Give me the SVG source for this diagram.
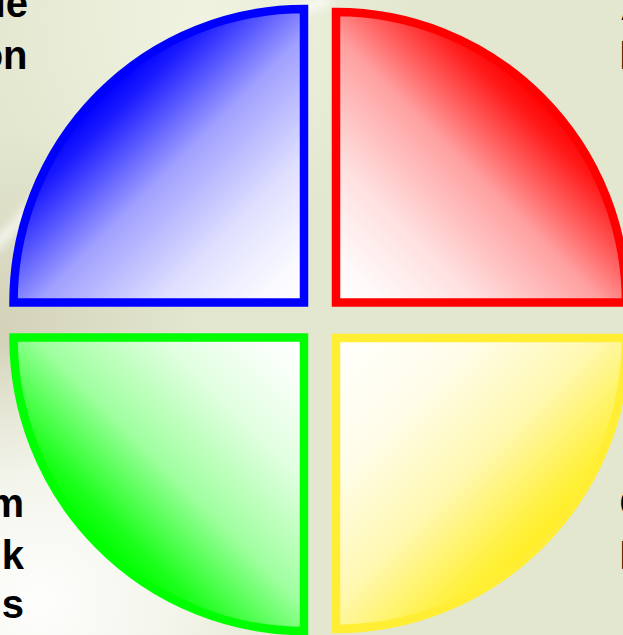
<svg xmlns="http://www.w3.org/2000/svg" width="623" height="635" viewBox="0 0 623 635">
  <defs>
    <style>
      .q { stroke-width: 8.5; stroke-linejoin: miter; }
      .lbl { font-family: "Liberation Sans", Arial, sans-serif; font-weight: bold; font-size: 40px; fill: #000000; }
      .end { text-anchor: end; }
    </style>
    <linearGradient id="gBlue" gradientUnits="userSpaceOnUse" x1="99" y1="97" x2="304" y2="302">
      <stop offset="0" stop-color="#0000ff"/>
      <stop offset="0.08" stop-color="#1a1aff"/>
      <stop offset="0.35" stop-color="#a0a0ff"/>
      <stop offset="0.65" stop-color="#e0e0ff"/>
      <stop offset="0.88" stop-color="#f9f9ff"/>
      <stop offset="1" stop-color="#ffffff"/>
    </linearGradient>
    <linearGradient id="gRed" gradientUnits="userSpaceOnUse" x1="541" y1="97" x2="336" y2="302">
      <stop offset="0" stop-color="#ff0000"/>
      <stop offset="0.08" stop-color="#ff1a1a"/>
      <stop offset="0.35" stop-color="#ffa0a0"/>
      <stop offset="0.65" stop-color="#ffe0e0"/>
      <stop offset="0.88" stop-color="#fff9f9"/>
      <stop offset="1" stop-color="#ffffff"/>
    </linearGradient>
    <linearGradient id="gGreen" gradientUnits="userSpaceOnUse" x1="99" y1="543" x2="304" y2="338">
      <stop offset="0" stop-color="#00ff00"/>
      <stop offset="0.08" stop-color="#1aff1a"/>
      <stop offset="0.35" stop-color="#a0ffa0"/>
      <stop offset="0.65" stop-color="#e0ffe0"/>
      <stop offset="0.88" stop-color="#f9fff9"/>
      <stop offset="1" stop-color="#ffffff"/>
    </linearGradient>
    <linearGradient id="gYellow" gradientUnits="userSpaceOnUse" x1="541" y1="543" x2="336" y2="338">
      <stop offset="0" stop-color="#ffee22"/>
      <stop offset="0.1" stop-color="#fff145"/>
      <stop offset="0.35" stop-color="#fff8b0"/>
      <stop offset="0.65" stop-color="#fffde8"/>
      <stop offset="1" stop-color="#ffffff"/>
    </linearGradient>
    <radialGradient id="glowBL" cx="40" cy="600" r="260" gradientUnits="userSpaceOnUse">
      <stop offset="0" stop-color="#ffffff" stop-opacity="0.95"/>
      <stop offset="0.5" stop-color="#ffffff" stop-opacity="0.6"/>
      <stop offset="1" stop-color="#ffffff" stop-opacity="0"/>
    </radialGradient>
    <radialGradient id="glowTL" cx="200" cy="20" r="220" gradientUnits="userSpaceOnUse">
      <stop offset="0" stop-color="#f4f6e6" stop-opacity="0.8"/>
      <stop offset="1" stop-color="#f4f6e6" stop-opacity="0"/>
    </radialGradient>
    <radialGradient id="shadeL" cx="0" cy="330" r="200" gradientUnits="userSpaceOnUse">
      <stop offset="0" stop-color="#cfcdb4" stop-opacity="0.8"/>
      <stop offset="1" stop-color="#cfcdb4" stop-opacity="0"/>
    </radialGradient>
    <filter id="blur" x="-50%" y="-50%" width="200%" height="200%">
      <feGaussianBlur stdDeviation="5"/>
    </filter>
  </defs>

  <g id="background">
    <rect x="0" y="0" width="623" height="635" fill="#e3e7cf"/>
    <rect x="0" y="0" width="623" height="635" fill="url(#shadeL)"/>
    <rect x="0" y="0" width="623" height="635" fill="url(#glowTL)"/>
    <rect x="0" y="0" width="623" height="635" fill="url(#glowBL)"/>
    <path d="M -10,250 C 20,225 60,170 120,120 S 260,20 330,0" fill="none" stroke="#ffffff" stroke-opacity="0.75" stroke-width="10" filter="url(#blur)"/>
  </g>

  <g id="quadrant-blue">
    <path class="q" d="M 304,302.5 L 13.5,302.5 A 290.5,293.5 0 0 1 304,9 Z" fill="url(#gBlue)" stroke="#0000ff"/>
  </g>
  <g id="quadrant-red">
    <path class="q" d="M 336,302.5 L 336,12 A 290,290.5 0 0 1 626,302.5 Z" fill="url(#gRed)" stroke="#ff0000"/>
  </g>
  <g id="quadrant-green">
    <path class="q" d="M 304,337.5 L 304,631 A 290.5,293.5 0 0 1 13.5,337.5 Z" fill="url(#gGreen)" stroke="#00ff00"/>
  </g>
  <g id="quadrant-yellow">
    <path class="q" d="M 336,338 L 626,338 A 290,291 0 0 1 336,629 Z" fill="url(#gYellow)" stroke="#ffee33"/>
  </g>

  <g id="labels">
    <text class="lbl end" x="28" y="17">le</text>
    <text class="lbl end" x="27.5" y="69">on</text>
    <text class="lbl end" x="24" y="517">m</text>
    <text class="lbl end" x="24" y="569">k</text>
    <text class="lbl end" x="24" y="618">s</text>
    <text class="lbl" x="620.5" y="20">A</text>
    <text class="lbl" x="619.5" y="69">I</text>
    <text class="lbl" x="619.5" y="517">C</text>
    <text class="lbl" x="619.5" y="569">I</text>
  </g>
</svg>
